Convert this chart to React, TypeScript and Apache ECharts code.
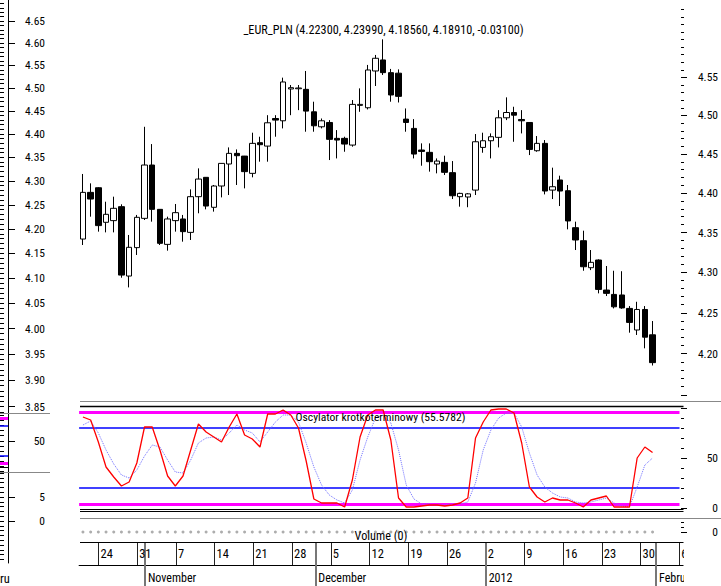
import React, { useEffect, useRef } from 'react';
import * as echarts from 'echarts';

const FONT = "'Roboto Condensed', 'DejaVu Sans Condensed', sans-serif";

// ---- data ----
const START_DATE = '2011-10-20';
const END_DATE = '2012-02-06';
const SYMBOL = '_EUR_PLN';

const opens = [4.3418, 4.4009, 4.4068, 4.3629, 4.3650, 4.3827, 4.2955, 4.3310, 4.3679, 4.4359,
  4.3793, 4.3351, 4.3650, 4.3671, 4.3502, 4.3954, 4.4201, 4.3819, 4.4090, 4.4372,
  4.4509, 4.4474, 4.4252, 4.4647, 4.4603, 4.4961, 4.4931, 4.5347, 4.5350, 4.5342,
  4.5048, 4.4853, 4.4909, 4.4703, 4.4703, 4.4616, 4.5132, 4.5101, 4.5584, 4.5730,
  4.5562, 4.5555, 4.4953, 4.4832, 4.4552, 4.4522, 4.4372, 4.4393, 4.4261, 4.3954,
  4.3950, 4.4038, 4.4586, 4.4672, 4.4716, 4.4970, 4.5039, 4.4948, 4.4909, 4.4543,
  4.4638, 4.4038, 4.4167, 4.4030, 4.3561, 4.3397, 4.3059, 4.3155, 4.2781, 4.2727,
  4.2720, 4.2554, 4.2289, 4.2541, 4.2230];
const highs = [4.4244, 4.4124, 4.4075, 4.3890, 4.3954, 4.3857, 4.3469, 4.3722, 4.4853, 4.4629,
  4.3797, 4.3700, 4.3861, 4.3722, 4.4047, 4.4316, 4.4205, 4.4103, 4.4382, 4.4586,
  4.4560, 4.4476, 4.4776, 4.4724, 4.5004, 4.5004, 4.5496, 4.5399, 4.5399, 4.5584,
  4.5180, 4.4961, 4.4940, 4.4810, 4.4724, 4.5202, 4.5355, 4.5664, 4.5796, 4.6004,
  4.5611, 4.5605, 4.5092, 4.4953, 4.4638, 4.4638, 4.4444, 4.4479, 4.4410, 4.4004,
  4.4000, 4.4759, 4.4776, 4.4767, 4.5070, 4.5237, 4.5114, 4.5070, 4.4912, 4.4733,
  4.4681, 4.4325, 4.4222, 4.4103, 4.3637, 4.3523, 4.3280, 4.3163, 4.3080, 4.3021,
  4.3015, 4.2583, 4.2636, 4.2583, 4.2399];
const lows = [4.3343, 4.3700, 4.3511, 4.3502, 4.3502, 4.2934, 4.2814, 4.3218, 4.3658, 4.3637,
  4.3343, 4.3272, 4.3511, 4.3385, 4.3406, 4.3743, 4.3793, 4.3764, 4.3945, 4.3975,
  4.4103, 4.4060, 4.4201, 4.4402, 4.4402, 4.4724, 4.4832, 4.5004, 4.5070, 4.4789,
  4.4789, 4.4832, 4.4423, 4.4444, 4.4530, 4.4595, 4.5048, 4.5079, 4.5386, 4.5531,
  4.5180, 4.5170, 4.4789, 4.4444, 4.4350, 4.4274, 4.4252, 4.4231, 4.3924, 4.3827,
  4.3820, 4.3975, 4.4517, 4.4444, 4.4586, 4.4940, 4.4659, 4.4767, 4.4487, 4.4530,
  4.3983, 4.3924, 4.3835, 4.3540, 4.3280, 4.3021, 4.3029, 4.2740, 4.2707, 4.2554,
  4.2550, 4.2256, 4.2228, 4.2065, 4.1856];
const closes = [4.4009, 4.3924, 4.3587, 4.3730, 4.3806, 4.2967, 4.3314, 4.3692, 4.4359, 4.3793,
  4.3364, 4.3671, 4.3751, 4.3511, 4.3954, 4.4179, 4.3835, 4.4090, 4.4380, 4.4509,
  4.4479, 4.4274, 4.4638, 4.4621, 4.4905, 4.4940, 4.5439, 4.5364, 4.5360, 4.5057,
  4.4866, 4.4931, 4.4690, 4.4681, 4.4629, 4.5145, 4.5145, 4.5597, 4.5752, 4.5562,
  4.5268, 4.5250, 4.4909, 4.4500, 4.4534, 4.4402, 4.4410, 4.4265, 4.3966, 4.3996,
  4.3990, 4.4659, 4.4672, 4.4724, 4.4970, 4.5039, 4.5004, 4.4931, 4.4560, 4.4638,
  4.4026, 4.4081, 4.4026, 4.3646, 4.3406, 4.3071, 4.3126, 4.2789, 4.2740, 4.2574,
  4.2560, 4.2382, 4.2541, 4.2201, 4.1891];

const oscFast = [91, 88, 66, 41, 31, 22, 26, 45, 81, 81, 58, 32, 22, 32, 58, 84, 76, 71, 66, 81,
  94, 73, 69, 61, 94, 94, 98, 93, 80, 47, 9, 5, 5, 5, 1, 28, 71, 93, 98, 98,
  68, 10, 1, 1, 2, 3, 3, 2, 3, 5, 10, 70, 86, 98, 99, 99, 95, 65, 21, 11,
  6, 10, 8, 8, 5, 1, 8, 10, 12, 1, 1, 1, 50, 61, 55.5782];
const oscSlow = [83, 87, 75, 58, 44, 33, 30, 38, 52, 63, 61, 48, 36, 35, 48, 65, 70, 71, 68, 75,
  83, 78, 75, 66, 76, 86, 93, 93, 86, 65, 41, 23, 13, 8, 5, 18, 48, 71, 90, 93,
  85, 58, 23, 9, 4, 4, 3, 3, 4, 4, 6, 25, 58, 78, 90, 95, 95, 81, 55, 33,
  21, 15, 11, 10, 6, 5, 6, 8, 10, 5, 2, 1, 21, 43, 50];
const volume = new Array(75).fill(0);

const OSC_OUTER_LEVELS = [96, 4];
const OSC_INNER_LEVELS = [80, 20];
const LEFT_OSC_OUTER_LEVELS = [95, 5];
const LEFT_OSC_INNER_LEVELS = [80, 20];

const PRICE_LABELS = [4.20, 4.25, 4.30, 4.35, 4.40, 4.45, 4.50, 4.55];
const PRICE_MAJOR_TICKS = [4.15, 4.20, 4.25, 4.30, 4.35, 4.40, 4.45, 4.50, 4.55];
const PRICE_RANGE = [4.15, 4.65];
const OSC_LABELS = [0, 50];
const OSC_MAJOR_TICKS = [0, 50, 100];
const OSC_MINOR_TICKS = [10, 20, 30, 40, 60, 70, 80, 90];
const VOL_LABELS = [0];
const VOL_MINOR_TICKS = [0.4, 0.8];

const LEFT_PRICE_LABELS = [3.85, 3.90, 3.95, 4.00, 4.05, 4.10, 4.15, 4.20, 4.25, 4.30, 4.35, 4.40, 4.45, 4.50, 4.55, 4.60, 4.65];
const LEFT_PRICE_RANGE = [3.8381, 4.6981];
const LEFT_OSC_LABELS = [50];
const LEFT_VOL_LABELS = [0, 5];

const MONTHS = ['January', 'February', 'March', 'April', 'May', 'June', 'July', 'August', 'September', 'October', 'November', 'December'];

function tradingDays(start: string, end: string): string[] {
  const out: string[] = [];
  const d = new Date(start + 'T00:00:00Z');
  const e = new Date(end + 'T00:00:00Z');
  while (d <= e) {
    const wd = d.getUTCDay();
    if (wd !== 0 && wd !== 6) out.push(d.toISOString().slice(0, 10));
    d.setUTCDate(d.getUTCDate() + 1);
  }
  return out;
}
const categories = tradingDays(START_DATE, END_DATE);

function stepValues(a: number, b: number, step: number): number[] {
  const out: number[] = [];
  const n = Math.round((b - a) / step);
  for (let i = 0; i <= n; i++) out.push(+(a + i * step).toFixed(4));
  return out;
}

const isMonday = (v: string) => new Date(v + 'T00:00:00Z').getUTCDay() === 1;
const isMonthStart = (i: number) => i > 0 && categories[i].slice(5, 7) !== categories[i - 1].slice(5, 7);

export default function App() {
  const ref = useRef<HTMLDivElement>(null);
  useEffect(() => {
    if (!ref.current) return;
    const chart = echarts.init(ref.current, null, { renderer: 'svg' });
    const ln = Math.log;
    const L = 79.1;
    const W = 604;
    const txt = { color: '#000', fontFamily: FONT, fontSize: 11.5 };
    const last = closes.length - 1;
    const title = `${SYMBOL} (${opens[last].toFixed(5)}, ${highs[last].toFixed(5)}, ${lows[last].toFixed(5)}, ${closes[last].toFixed(5)}, ${(closes[last] - closes[last - 1]).toFixed(5)})`;
    const oscTitle = `Oscylator krotkoterminowy (${oscFast[oscFast.length - 1].toFixed(4)})`;
    const volTitle = `Volume (${volume[volume.length - 1]})`;

    const priceMinor = stepValues(4.15, 4.64, 0.01).map(ln);
    const leftMinor = stepValues(3.84, 4.69, 0.01).map(ln);
    const expFmt = (v: number) => Math.exp(v).toFixed(2);

    const noSplit = { show: false };

    const yMajor = (gridIndex: number, min: number, max: number, ticks: number[], labels: number[] | null, fmt?: any, opts: any = {}) => ({
      type: 'value', gridIndex, min, max, position: 'right', offset: opts.offset ?? 1.5,
      axisLine: opts.axisLine ?? { show: false },
      splitLine: noSplit,
      axisTick: { show: true, length: opts.tickLen ?? 6, customValues: ticks, lineStyle: { color: '#000', width: 1 } },
      axisLabel: labels ? { show: true, customValues: labels, formatter: fmt, align: 'right', margin: opts.margin ?? 37, ...txt } : { show: false },
    });
    const yMinor = (gridIndex: number, min: number, max: number, ticks: number[], opts: any = {}) => ({
      type: 'value', gridIndex, min, max, position: 'right', offset: opts.offset ?? 1.5,
      axisLine: { show: false }, splitLine: noSplit,
      axisTick: { show: true, length: opts.tickLen ?? 3, customValues: ticks, lineStyle: { color: '#000', width: 1 } },
      axisLabel: { show: false },
    });
    const leftLine = { show: true, onZero: false, lineStyle: { color: '#000', width: 1 } };

    const markLineOf = (outer: number[], inner: number[], outerW: number) => ({
      silent: true, symbol: ['none', 'none'], z: 1,
      label: { show: false },
      data: [
        ...outer.map(v => ({ yAxis: v, lineStyle: { color: '#ff00ff', width: outerW, type: 'solid' } })),
        ...inner.map(v => ({ yAxis: v, lineStyle: { color: '#0000ff', width: 1.5, type: 'solid' } })),
      ],
    });

    const line = (x1: number, y1: number, x2: number, y2: number, stroke: string, lw = 1) => ({
      type: 'line', z: 50, silent: true, shape: { x1, y1, x2, y2 }, style: { stroke, lineWidth: lw },
    });
    const text = (t: string, x: number, y: number, align = 'center', size = 13) => ({
      type: 'text', z: 60, silent: true, x, y,
      style: { text: t, fill: '#000', font: `${size}px ${FONT}`, align, verticalAlign: 'middle', textAlign: align, textVerticalAlign: 'middle' },
    });

    const option: any = {
      animation: false,
      backgroundColor: '#fff',
      grid: [
        { left: L, top: 2.3, width: W, height: 392.7 },
        { left: L, top: 406, width: W, height: 105 },
        { left: L, top: 520, width: W, height: 24 },
        { left: L, top: 542, width: W, height: 23 },
        { left: 0, top: 0, width: 8, height: 413 },
        { left: 0, top: 413, width: 8, height: 59 },
        { left: 0, top: 472, width: 8, height: 91 },
      ],
      xAxis: [
        { type: 'category', gridIndex: 0, data: categories, show: false },
        { type: 'category', gridIndex: 1, data: categories, show: false },
        { type: 'category', gridIndex: 2, data: categories, show: false },
        {
          type: 'category', gridIndex: 3, data: categories, position: 'bottom',
          axisLine: { show: true, onZero: false, lineStyle: { color: '#000', width: 1 } },
          axisTick: { show: true, inside: true, length: 23, alignWithLabel: true, interval: (i: number, v: string) => isMonday(v), lineStyle: { color: '#222', width: 1 } },
          axisLabel: { show: true, inside: true, interval: (i: number, v: string) => isMonday(v), formatter: (v: string) => String(+v.slice(8)), align: 'left', verticalAlign: 'middle', margin: 11.5, padding: [0, 0, 0, 2], ...txt, fontSize: 12.5 },
          splitLine: noSplit,
        },
        {
          type: 'category', gridIndex: 3, data: categories, position: 'bottom',
          axisLine: { show: false, onZero: false },
          axisTick: { show: true, inside: true, length: 23, alignWithLabel: true, interval: (i: number) => isMonthStart(i), lineStyle: { color: '#777', width: 2 } },
          axisLabel: { show: false }, splitLine: noSplit,
        },
        {
          type: 'category', gridIndex: 3, data: categories, position: 'bottom',
          axisLine: { show: false, onZero: false },
          axisTick: { show: true, inside: false, length: 21, alignWithLabel: true, interval: (i: number) => isMonthStart(i), lineStyle: { color: '#777', width: 2 } },
          axisLabel: {
            show: true, interval: (i: number) => isMonthStart(i),
            formatter: (v: string) => { const m = +v.slice(5, 7); return m === 1 ? v.slice(0, 4) : MONTHS[m - 1]; },
            align: 'left', verticalAlign: 'middle', margin: 13, padding: [0, 0, 0, 3], ...txt, fontSize: 12,
          },
          splitLine: noSplit,
        },
        { type: 'value', gridIndex: 4, show: false, min: 0, max: 1 },
        { type: 'value', gridIndex: 5, show: false, min: 0, max: 1 },
        { type: 'value', gridIndex: 6, show: false, min: 0, max: 1 },
      ],
      yAxis: [
        yMajor(0, ln(PRICE_RANGE[0]), ln(PRICE_RANGE[1]), PRICE_MAJOR_TICKS.map(ln), PRICE_LABELS.map(ln), expFmt),
        yMinor(0, ln(PRICE_RANGE[0]), ln(PRICE_RANGE[1]), priceMinor),
        yMajor(1, -3, 102, OSC_MAJOR_TICKS, OSC_LABELS, undefined),
        yMinor(1, -3, 102, OSC_MINOR_TICKS),
        yMajor(2, -1, 1, [0], VOL_LABELS, undefined),
        yMinor(2, -1, 1, VOL_MINOR_TICKS),
        { type: 'value', gridIndex: 3, show: false, min: 0, max: 1 },
        yMajor(4, ln(LEFT_PRICE_RANGE[0]), ln(LEFT_PRICE_RANGE[1]), LEFT_PRICE_LABELS.map(ln), LEFT_PRICE_LABELS.map(ln), expFmt, { offset: 0, tickLen: 7, axisLine: leftLine }),
        yMinor(4, ln(LEFT_PRICE_RANGE[0]), ln(LEFT_PRICE_RANGE[1]), leftMinor, { offset: 0, tickLen: 4 }),
        yMajor(5, -11.88, 104.95, LEFT_OSC_LABELS, LEFT_OSC_LABELS, undefined, { offset: 0, tickLen: 7, axisLine: leftLine }),
        yMinor(5, -11.88, 104.95, stepValues(-10, 100, 10), { offset: 0, tickLen: 4 }),
        yMajor(6, -8.75, 10.21, LEFT_VOL_LABELS, LEFT_VOL_LABELS, undefined, { offset: 0, tickLen: 7, axisLine: leftLine }),
        yMinor(6, -8.75, 10.21, stepValues(-8, 10, 1), { offset: 0, tickLen: 4 }),
      ],
      series: [
        {
          type: 'candlestick', xAxisIndex: 0, yAxisIndex: 0, barWidth: 6,
          data: opens.map((o, i) => [ln(o), ln(closes[i]), ln(lows[i]), ln(highs[i])]),
          itemStyle: { color: '#fff', color0: '#000', borderColor: '#000', borderColor0: '#000', borderWidth: 1 },
        },
        {
          type: 'line', xAxisIndex: 1, yAxisIndex: 2, data: oscSlow, showSymbol: false, z: 8,
          lineStyle: { color: '#7070ff', width: 1, type: 'dotted' },
        },
        {
          type: 'line', xAxisIndex: 1, yAxisIndex: 2, data: oscFast, showSymbol: false, z: 9,
          lineStyle: { color: '#ff0000', width: 1.3 },
          markLine: markLineOf(OSC_OUTER_LEVELS, OSC_INNER_LEVELS, 3),
        },
        {
          type: 'scatter', xAxisIndex: 2, yAxisIndex: 4, data: volume, symbolSize: 3,
          itemStyle: { color: '#999' },
        },
        {
          type: 'line', xAxisIndex: 7, yAxisIndex: 9, data: [],
          markLine: markLineOf(LEFT_OSC_OUTER_LEVELS, LEFT_OSC_INNER_LEVELS, 3),
        },
      ],
      graphic: [
        line(80, 401.5, 721, 401.5, '#888'),
        line(80, 406.5, 683.5, 406.5, '#000', 1.5),
        line(80, 509.5, 683.5, 509.5, '#000'),
        line(80, 511.5, 683.5, 511.5, '#000'),
        line(80, 518.5, 721, 518.5, '#888'),
        line(80, 542.5, 683.5, 542.5, '#000'),
        line(0, 413.5, 50, 413.5, '#888'),
        line(0, 472.5, 50, 472.5, '#888'),
        line(0, 467.5, 8, 467.5, '#000'),
        { type: 'rect', z: 55, silent: true, shape: { x: 684, y: 540, width: 40, height: 50 }, style: { fill: '#fff' } },
        text(title, 383.5, 29.5, 'center', 12.2),
        text(oscTitle, 380.5, 416.5, 'center', 11.6),
        text(volTitle, 381, 536, 'center', 12.2),
        text('ru', 0, 578, 'left', 12.5),
      ],
    };
    chart.setOption(option);
    return () => chart.dispose();
  }, []);
  return <div ref={ref} style={{ position: 'absolute', left: 0, top: 0, width: 721, height: 586 }} />;
}
